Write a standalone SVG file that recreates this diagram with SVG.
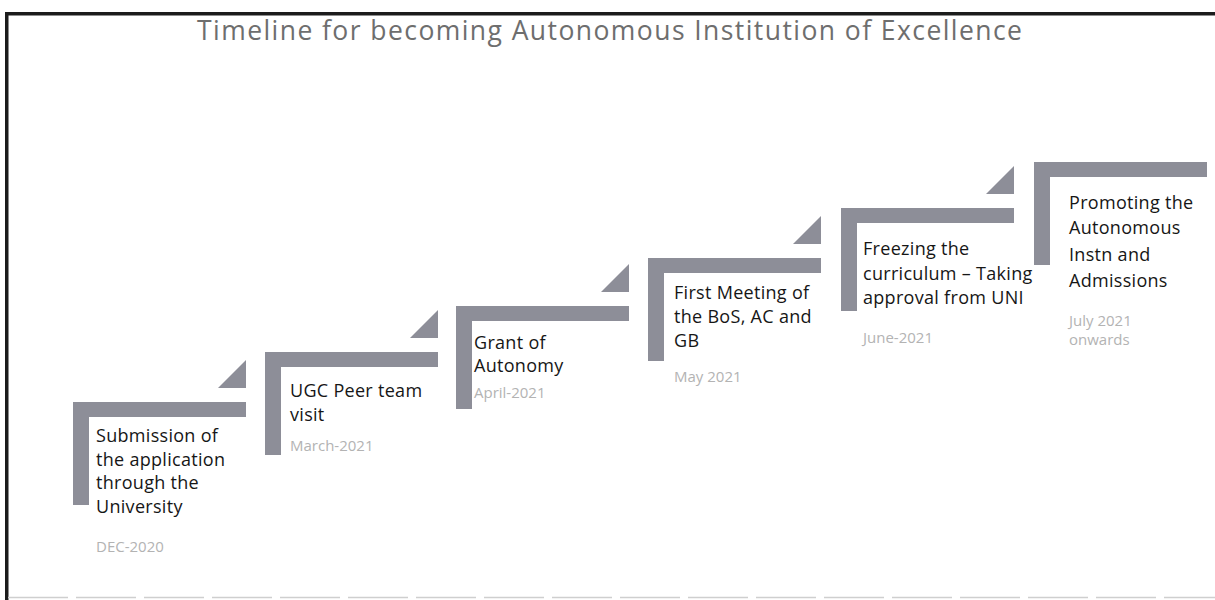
<svg xmlns="http://www.w3.org/2000/svg" width="1215" height="600" viewBox="0 0 1215 600">
<style>
.bar{fill:#8d8e98}
.t{font-family:"Open Sans","Liberation Sans",sans-serif;font-size:18px;letter-spacing:0.3px;fill:#161616}
.d{font-family:"Open Sans","Liberation Sans",sans-serif;font-size:15px;fill:#b3b3b3}
.title{font-family:"Open Sans","Liberation Sans",sans-serif;font-size:26.5px;fill:#6e6e6e}
</style>
<defs>
<path id="ell" d="M0 0 h173 v15 h-157 v88 h-16 z"/>
<path id="tri" d="M145 -14 L173 -14 L173 -42 z"/>
</defs>
<g id="frame">
<rect x="5" y="12" width="1210" height="3.5" fill="#1c1c1c"/>
<rect x="5" y="12" width="3.5" height="588" fill="#1c1c1c"/>
<line x1="8" y1="597.5" x2="1215" y2="597.5" stroke="#cfcfcf" stroke-width="1.5" stroke-dasharray="60 8"/>
</g>
<text id="title" class="title" x="197" y="40" textLength="825" lengthAdjust="spacing">Timeline for becoming Autonomous Institution of Excellence</text>
<g id="step1" transform="translate(73,402)">
<use href="#ell" class="bar"/><use href="#tri" class="bar"/>
<text class="t" x="23" y="40">Submission of</text>
<text class="t" x="23" y="63.5">the application</text>
<text class="t" x="23" y="87">through the</text>
<text class="t" x="23" y="110.5">University</text>
<text class="d" x="23" y="150">DEC-2020</text>
</g>
<g id="step2" transform="translate(265,352)">
<use href="#ell" class="bar"/><use href="#tri" class="bar"/>
<text class="t" x="25" y="45">UGC Peer team</text>
<text class="t" x="25" y="69">visit</text>
<text class="d" x="25" y="99">March-2021</text>
</g>
<g id="step3" transform="translate(456,306)">
<use href="#ell" class="bar"/><use href="#tri" class="bar"/>
<text class="t" x="18" y="43">Grant of</text>
<text class="t" x="18" y="66">Autonomy</text>
<text class="d" x="18" y="92">April-2021</text>
</g>
<g id="step4" transform="translate(648,258)">
<use href="#ell" class="bar"/><use href="#tri" class="bar"/>
<text class="t" x="26" y="41">First Meeting of</text>
<text class="t" x="26" y="65">the BoS, AC and</text>
<text class="t" x="26" y="89">GB</text>
<text class="d" x="26" y="124">May 2021</text>
</g>
<g id="step5" transform="translate(841,208)">
<use href="#ell" class="bar"/><use href="#tri" class="bar"/>
<text class="t" x="22" y="47">Freezing the</text>
<text class="t" x="22" y="72">curriculum – Taking</text>
<text class="t" x="22" y="96">approval from UNI</text>
<text class="d" x="22" y="135">June-2021</text>
</g>
<g id="step6" transform="translate(1034,162)">
<use href="#ell" class="bar"/>
<text class="t" x="35" y="47">Promoting the</text>
<text class="t" x="35" y="72">Autonomous</text>
<text class="t" x="35" y="99">Instn and</text>
<text class="t" x="35" y="125">Admissions</text>
<text class="d" x="35" y="164">July 2021</text>
<text class="d" x="35" y="183">onwards</text>
</g>
</svg>
